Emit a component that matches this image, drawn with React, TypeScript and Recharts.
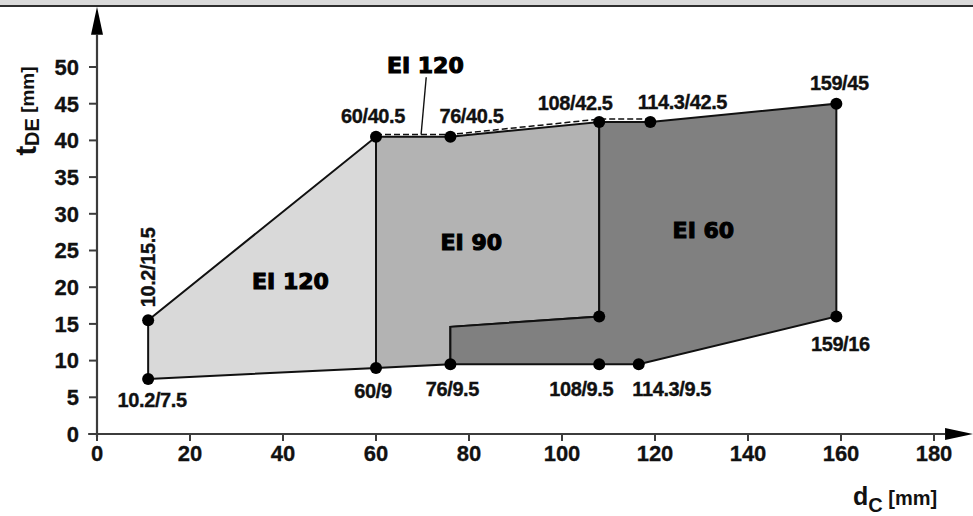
import React from 'react'
import { ScatterChart, Scatter, XAxis, YAxis, ReferenceLine, ReferenceDot } from 'recharts'

const FONT = '"Liberation Sans", Arial, Helvetica, sans-serif'
const HEAVY = '"DejaVu Sans", "Liberation Sans", sans-serif'
const AXIS = '#3c3c3c'

const xTicks = [0, 20, 40, 60, 80, 100, 120, 140, 160, 180]
const yTicks = [0, 5, 10, 15, 20, 25, 30, 35, 40, 45, 50]

// zone outlines as drawn in the figure (closed: first point repeated)
const zoneEI120 = [
  { x: 11, y: 7.5 },
  { x: 11, y: 15.5 },
  { x: 60, y: 40.5 },
  { x: 60, y: 9 },
  { x: 11, y: 7.5 },
]
const zoneEI90 = [
  { x: 60, y: 9 },
  { x: 60, y: 40.5 },
  { x: 76, y: 40.5 },
  { x: 108, y: 42.5 },
  { x: 108, y: 16 },
  { x: 76, y: 14.6 },
  { x: 76, y: 9.5 },
  { x: 60, y: 9 },
]
const zoneEI60 = [
  { x: 76, y: 9.5 },
  { x: 76, y: 14.6 },
  { x: 108, y: 16 },
  { x: 108, y: 42.5 },
  { x: 119, y: 42.5 },
  { x: 159, y: 45 },
  { x: 159, y: 16 },
  { x: 116.5, y: 9.5 },
  { x: 76, y: 9.5 },
]
// dashed EI 120 limit along the top edge
const ei120Limit = [
  { x: 60, y: 40.8 },
  { x: 76, y: 40.8 },
  { x: 108, y: 42.9 },
  { x: 119, y: 42.9 },
]

const corners = [
  { x: 11, y: 15.5, label: '10.2/15.5' },
  { x: 11, y: 7.5, label: '10.2/7.5' },
  { x: 60, y: 40.5, label: '60/40.5' },
  { x: 60, y: 9, label: '60/9' },
  { x: 76, y: 40.5, label: '76/40.5' },
  { x: 76, y: 9.5, label: '76/9.5' },
  { x: 108, y: 42.5, label: '108/42.5' },
  { x: 108, y: 16, label: '' },
  { x: 108, y: 9.5, label: '108/9.5' },
  { x: 119, y: 42.5, label: '114.3/42.5' },
  { x: 116.5, y: 9.5, label: '114.3/9.5' },
  { x: 159, y: 45, label: '159/45' },
  { x: 159, y: 16, label: '159/16' },
]

const zoneNames = [
  { x: 41.6, y: 20.9, name: 'EI 120' },
  { x: 80.5, y: 26.2, name: 'EI 90' },
  { x: 130.4, y: 27.8, name: 'EI 60' },
  { x: 70.6, y: 50.3, name: 'EI 120' },
]

// label offsets in px from the dot
const labelOffset: Record<string, { dx: number; dy: number; vertical?: boolean }> = {
  '10.2/15.5': { dx: 7, dy: -13, vertical: true },
  '10.2/7.5': { dx: 4, dy: 28 },
  '60/40.5': { dx: -3, dy: -14 },
  '60/9': { dx: -3, dy: 30 },
  '76/40.5': { dx: 21, dy: -14 },
  '76/9.5': { dx: 2, dy: 32 },
  '108/42.5': { dx: -24, dy: -12 },
  '108/9.5': { dx: -18, dy: 32 },
  '114.3/42.5': { dx: 32, dy: -13 },
  '114.3/9.5': { dx: 33, dy: 32 },
  '159/45': { dx: 3, dy: -14 },
  '159/16': { dx: 4, dy: 34 },
}

const noDot = () => <g />

function CornerDot(props: any) {
  const { cx, cy, payload } = props
  const off = labelOffset[payload.label]
  return (
    <g>
      <circle cx={cx} cy={cy} r={6} fill="#000" />
      {off && (
        <text
          x={cx + off.dx}
          y={cy + off.dy}
          textAnchor={off.vertical ? 'start' : 'middle'}
          transform={off.vertical ? `rotate(-90 ${cx + off.dx} ${cy + off.dy})` : undefined}
          fontFamily={FONT}
          fontWeight={700}
          fontSize={20}
          letterSpacing={-0.4}
          fill="#111"
          stroke="#111"
          strokeWidth={0.35}
        >
          {payload.label}
        </text>
      )}
    </g>
  )
}

function ArrowAxis(props: any) {
  const { x1, y1, x2, y2 } = props
  const len = Math.hypot(x2 - x1, y2 - y1)
  const ux = (x2 - x1) / len
  const uy = (y2 - y1) / len
  const bx = x2 - ux * 28
  const by = y2 - uy * 28
  const px = -uy * 6
  const py = ux * 6
  return (
    <g>
      <line x1={x1} y1={y1} x2={bx} y2={by} stroke={AXIS} strokeWidth={2.2} />
      <polygon points={`${x2},${y2} ${bx + px},${by + py} ${bx - px},${by - py}`} fill="#000" />
    </g>
  )
}

function XTitle(props: any) {
  const { x, y, width } = props.viewBox
  return (
    <text x={x + width - 81} y={y + 71} fontFamily={FONT} fontWeight={700} fill="#111">
      <tspan fontSize={25}>d</tspan>
      <tspan fontSize={20} dy={7}>C</tspan>
      <tspan fontSize={20} dy={-7}> [mm]</tspan>
    </text>
  )
}

function YTitle(props: any) {
  const { x, y } = props.viewBox
  const tx = x + 36
  const ty = y + 44
  return (
    <text
      x={tx}
      y={ty}
      textAnchor="middle"
      transform={`rotate(-90 ${tx} ${ty})`}
      fontFamily={FONT}
      fontWeight={700}
      fill="#111"
    >
      <tspan fontSize={29}>t</tspan>
      <tspan fontSize={20} dy={3}>DE</tspan>
      <tspan fontSize={19} dy={-5}> [mm]</tspan>
    </text>
  )
}

const tickStyle = {
  fontSize: 22,
  fontWeight: 700,
  fill: '#111',
  stroke: '#111',
  strokeWidth: 0.3,
  fontFamily: FONT,
}

export default function App() {
  return (
    <div style={{ position: 'absolute', left: 0, top: 0, width: 973, height: 516, background: '#fff' }}>
      <div
        style={{
          position: 'absolute',
          left: 0,
          top: 0,
          width: 973,
          height: 5,
          background: '#dadada',
          borderBottom: '2px solid #2e2e2e',
        }}
      />
      <ScatterChart width={973} height={516} margin={{ top: 67, right: 39, left: 0, bottom: 0 }}>
        <XAxis
          type="number"
          dataKey="x"
          domain={[0, 180]}
          ticks={xTicks}
          height={82}
          axisLine={false}
          tickLine={{ stroke: AXIS, strokeWidth: 2 }}
          tickSize={7}
          tickMargin={4}
          tick={tickStyle}
          label={{ content: XTitle }}
        />
        <YAxis
          type="number"
          dataKey="y"
          domain={[0, 50]}
          ticks={yTicks}
          width={97}
          axisLine={false}
          tickLine={{ stroke: AXIS, strokeWidth: 2 }}
          tickSize={8}
          tickMargin={10}
          tick={tickStyle}
          label={{ content: YTitle }}
        />
        <Scatter
          data={zoneEI120}
          shape={noDot}
          line={{ fill: '#d9d9d9', stroke: '#111', strokeWidth: 2 }}
          lineType="joint"
          isAnimationActive={false}
        />
        <Scatter
          data={zoneEI90}
          shape={noDot}
          line={{ fill: '#b3b3b3', stroke: '#111', strokeWidth: 2 }}
          lineType="joint"
          isAnimationActive={false}
        />
        <Scatter
          data={zoneEI60}
          shape={noDot}
          line={{ fill: '#808080', stroke: '#111', strokeWidth: 2 }}
          lineType="joint"
          isAnimationActive={false}
        />
        <Scatter
          data={ei120Limit}
          shape={noDot}
          line={{ fill: 'none', stroke: '#111', strokeWidth: 1.5, strokeDasharray: '6 3' }}
          lineType="joint"
          isAnimationActive={false}
        />
        <ReferenceLine
          segment={[{ x: 70.8, y: 48.6 }, { x: 69.7, y: 40.8 }]}
          ifOverflow="visible"
          stroke="#111"
          strokeWidth={1.4}
        />
        <ReferenceLine
          segment={[{ x: -1.9, y: 0 }, { x: 188.4, y: 0 }]}
          ifOverflow="visible"
          shape={ArrowAxis}
        />
        <ReferenceLine
          segment={[{ x: 0, y: -0.4 }, { x: 0, y: 58.2 }]}
          ifOverflow="visible"
          shape={ArrowAxis}
        />
        <Scatter data={corners} shape={(p: any) => <CornerDot {...p} />} isAnimationActive={false} />
        {zoneNames.map((z, i) => (
          <ReferenceDot
            key={i}
            x={z.x}
            y={z.y}
            ifOverflow="visible"
            shape={(p: any) => (
              <text
                x={p.cx}
                y={p.cy + 8}
                textAnchor="middle"
                fontFamily={HEAVY}
                fontWeight={700}
                fontSize={22}
                fill="#000"
                stroke="#000"
                strokeWidth={1.1}
              >
                {z.name}
              </text>
            )}
          />
        ))}
      </ScatterChart>
    </div>
  )
}
